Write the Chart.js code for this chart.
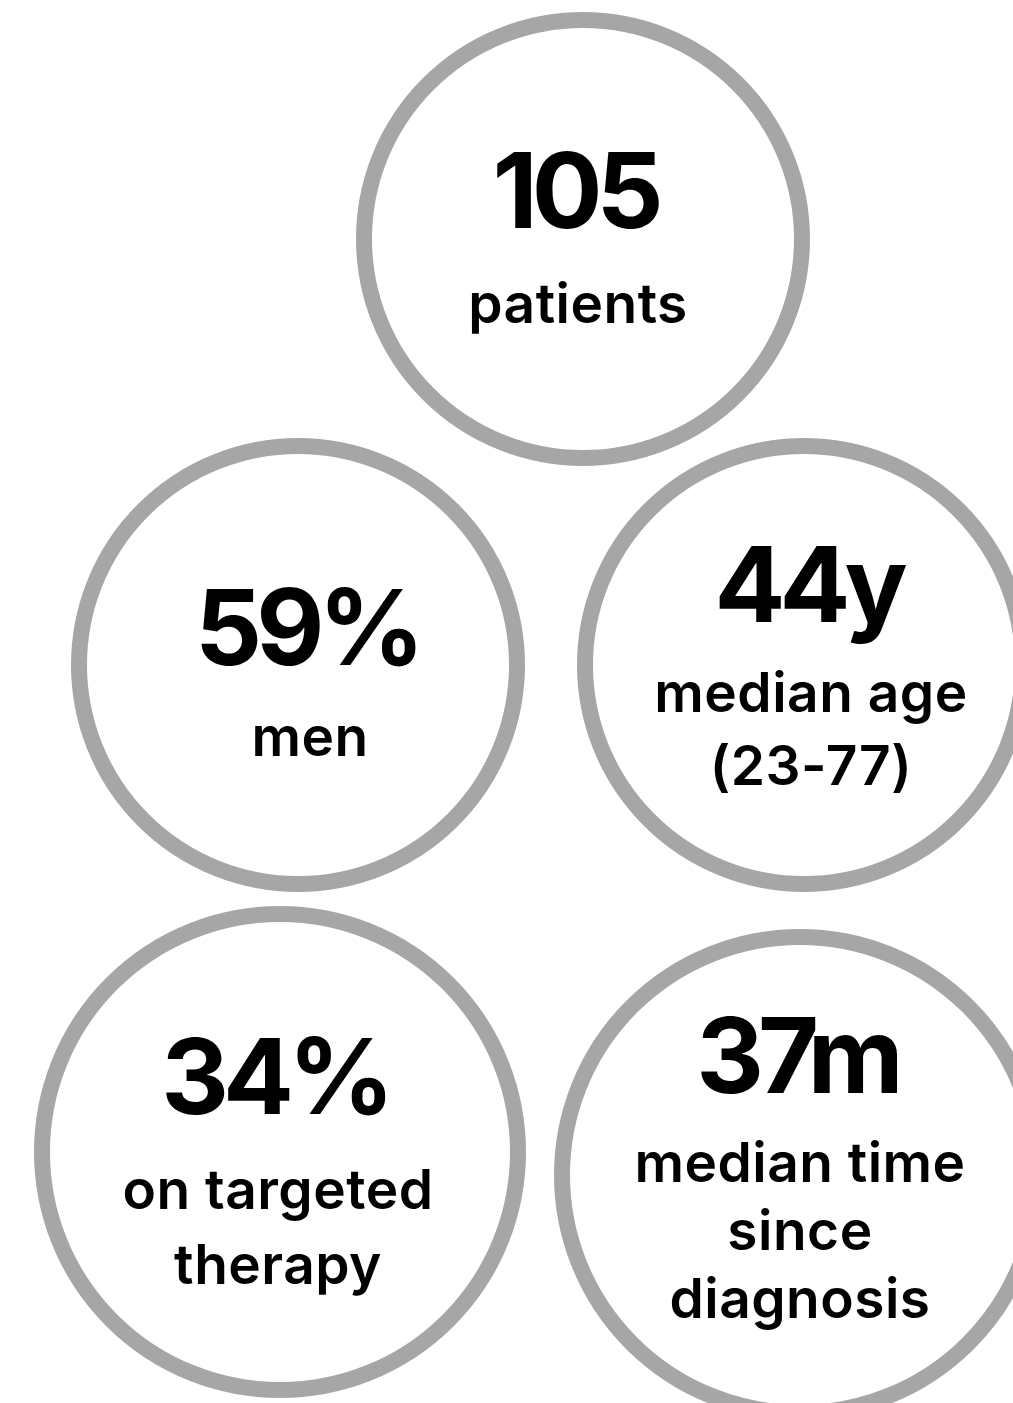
<!DOCTYPE html>
<html>
<head>
<meta charset="utf-8">
<script src="https://cdn.jsdelivr.net/npm/chart.js@4/dist/chart.umd.min.js"></script>
<style>
  html, body { margin: 0; padding: 0; background: #fff; }
  canvas { display: block; }
</style>
</head>
<body>
<canvas id="stats" width="1013" height="1403"></canvas>
<script>
// headline numbers and their captions
const statValues = ['105', '59%', '44y', '34%', '37m'];
const statLabels = [
    ['patients'],
    ['men'],
    ['median age', '(23-77)'],
    ['on targeted', 'therapy'],
    ['median time', 'since', 'diagnosis']
];

// where each circle sits on the page (page units, y down)
const circleX = [583, 298, 804, 280, 800];
const circleY = [239, 665, 665, 1152, 1175];
const circleR = [219, 219, 219, 238, 238];

// text placement inside each circle, relative to its centre
const textDx = [-5, 12, 7, -2, 0];
const numberDy = [-11, 0, -43, -38, -82];   // number baseline
const labelGap = [95, 91, 90, 95, 89];      // number baseline -> first caption baseline
const lineGap = [70, 70, 73, 75, 68];       // between caption lines

const FONT = 'Inter, "Noto Sans", sans-serif';

// draws the number + caption inside every circle
const statText = {
    id: 'statText',
    afterDatasetsDraw(chart) {
        const ctx = chart.ctx;
        const meta = chart.getDatasetMeta(0);

        ctx.save();
        ctx.fillStyle = '#000';
        ctx.textAlign = 'center';
        ctx.textBaseline = 'alphabetic';

        meta.data.forEach((pt, i) => {
            const x = pt.x + textDx[i];
            const numBase = pt.y + numberDy[i];

            ctx.font = '700 105px ' + FONT;
            ctx.letterSpacing = '-6px';
            ctx.fillText(statValues[i], x - 3, numBase);

            ctx.font = '600 55px ' + FONT;
            ctx.letterSpacing = '0.5px';
            statLabels[i].forEach((line, j) => {
                ctx.fillText(line, x, numBase + labelGap[i] + lineGap[i] * j);
            });
        });
        ctx.restore();
    }
};

new Chart(document.getElementById('stats'), {
    type: 'bubble',
    data: {
        datasets: [{
            data: statValues.map((v, i) => ({ x: circleX[i], y: circleY[i], r: circleR[i] })),
            backgroundColor: '#ffffff',
            borderColor: '#a6a6a6',
            borderWidth: 16,
            hoverBorderWidth: 16,
            clip: false
        }]
    },
    options: {
        responsive: false,
        animation: false,
        events: [],
        layout: { padding: 0, autoPadding: false },
        plugins: {
            legend: { display: false },
            tooltip: { enabled: false }
        },
        scales: {
            x: { type: 'linear', min: 0, max: 1013, display: false },
            y: { type: 'linear', min: 0, max: 1403, reverse: true, display: false }
        }
    },
    plugins: [statText]
});
</script>
</body>
</html>
